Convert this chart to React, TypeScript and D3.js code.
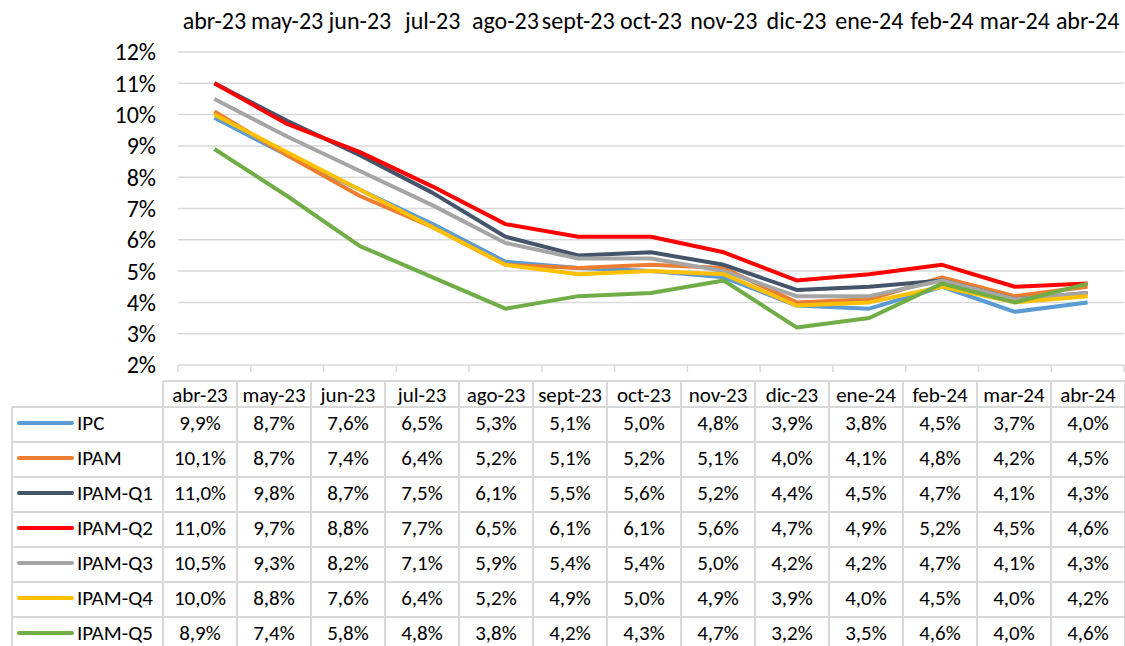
import * as d3 from 'd3';
import React, { useEffect, useRef } from 'react';

const months = ['abr-23', 'may-23', 'jun-23', 'jul-23', 'ago-23', 'sept-23', 'oct-23', 'nov-23', 'dic-23', 'ene-24', 'feb-24', 'mar-24', 'abr-24'];

const seriesNames = ['IPC', 'IPAM', 'IPAM-Q1', 'IPAM-Q2', 'IPAM-Q3', 'IPAM-Q4', 'IPAM-Q5'];
const seriesColors = ['#5B9BD5', '#ED7D31', '#44546A', '#FF0000', '#A5A5A5', '#FFC000', '#70AD47'];

const ipc = [9.9, 8.7, 7.6, 6.5, 5.3, 5.1, 5.0, 4.8, 3.9, 3.8, 4.5, 3.7, 4.0];
const ipam = [10.1, 8.7, 7.4, 6.4, 5.2, 5.1, 5.2, 5.1, 4.0, 4.1, 4.8, 4.2, 4.5];
const ipamQ1 = [11.0, 9.8, 8.7, 7.5, 6.1, 5.5, 5.6, 5.2, 4.4, 4.5, 4.7, 4.1, 4.3];
const ipamQ2 = [11.0, 9.7, 8.8, 7.7, 6.5, 6.1, 6.1, 5.6, 4.7, 4.9, 5.2, 4.5, 4.6];
const ipamQ3 = [10.5, 9.3, 8.2, 7.1, 5.9, 5.4, 5.4, 5.0, 4.2, 4.2, 4.7, 4.1, 4.3];
const ipamQ4 = [10.0, 8.8, 7.6, 6.4, 5.2, 4.9, 5.0, 4.9, 3.9, 4.0, 4.5, 4.0, 4.2];
const ipamQ5 = [8.9, 7.4, 5.8, 4.8, 3.8, 4.2, 4.3, 4.7, 3.2, 3.5, 4.6, 4.0, 4.6];

const seriesValues = [ipc, ipam, ipamQ1, ipamQ2, ipamQ3, ipamQ4, ipamQ5];
const yTicks = [2, 3, 4, 5, 6, 7, 8, 9, 10, 11, 12];

export default function App() {
  const svgRef = useRef<SVGSVGElement>(null);

  useEffect(() => {
    if (!svgRef.current) return;
    const svg = d3.select(svgRef.current);
    svg.selectAll('*').remove();

    const font = "Carlito, Calibri, 'Liberation Sans', sans-serif";
    const grid = '#d9d9d9';
    const axisSize = '24px';
    const tableSize = '21px';

    // plot area
    const x = d3.scaleBand().domain(months).range([178, 1124]);
    const y = d3.scaleLinear().domain([2, 12]).range([365, 52]);

    // table geometry
    const tx = d3.scaleBand().domain(months).range([163, 1125]);
    const headerTop = 381;
    const headerBottom = 407;
    const rowH = 35;
    const ry = d3.scaleBand().domain(seriesNames).range([headerBottom, headerBottom + rowH * seriesNames.length]);
    const legendLeft = 12;

    // gridlines
    svg.append('g')
      .selectAll('line')
      .data(yTicks)
      .join('line')
      .attr('x1', 178).attr('x2', 1124)
      .attr('y1', d => y(d)).attr('y2', d => y(d))
      .attr('stroke', grid).attr('stroke-width', 1.5);

    // tick marks at bottom
    svg.append('g')
      .selectAll('line')
      .data([...months.map(m => x(m)!), 1124])
      .join('line')
      .attr('x1', d => d).attr('x2', d => d)
      .attr('y1', y(2)).attr('y2', y(2) + 7)
      .attr('stroke', grid).attr('stroke-width', 1.5);

    // y labels
    svg.append('g')
      .selectAll('text')
      .data(yTicks)
      .join('text')
      .attr('x', 156).attr('y', d => y(d))
      .attr('dy', '0.35em')
      .attr('text-anchor', 'end')
      .style('font-family', font).style('font-size', axisSize)
      .attr('fill', '#000')
      .text(d => `${d}%`);

    // top labels
    svg.append('g')
      .selectAll('text')
      .data(months)
      .join('text')
      .attr('x', d => x(d)! + x.bandwidth() / 2).attr('y', 21)
      .attr('dy', '0.35em')
      .attr('text-anchor', 'middle')
      .style('font-family', font).style('font-size', axisSize)
      .text(d => d);

    // lines
    const line = d3.line<number>()
      .x((_, i) => x(months[i])! + x.bandwidth() / 2)
      .y(d => y(d));

    svg.append('g')
      .selectAll('path')
      .data(seriesValues)
      .join('path')
      .attr('d', d => line(d))
      .attr('fill', 'none')
      .attr('stroke', (_, i) => seriesColors[i])
      .attr('stroke-width', 4)
      .attr('stroke-linejoin', 'round');

    // table borders
    const tb = svg.append('g').attr('stroke', grid).attr('stroke-width', 2);
    const tableBottom = headerBottom + rowH * seriesNames.length;
    tb.append('line').attr('x1', 163).attr('x2', 1125).attr('y1', headerTop).attr('y2', headerTop);
    [headerBottom, ...seriesNames.map(s => ry(s)! + rowH)].forEach(v => {
      tb.append('line').attr('x1', legendLeft).attr('x2', 1125).attr('y1', v).attr('y2', v);
    });
    tb.append('line').attr('x1', legendLeft).attr('x2', legendLeft).attr('y1', headerBottom).attr('y2', tableBottom);
    [...months.map(m => tx(m)!), 1125].forEach(v => {
      tb.append('line').attr('x1', v).attr('x2', v).attr('y1', headerTop).attr('y2', tableBottom);
    });

    // header text
    svg.append('g')
      .selectAll('text')
      .data(months)
      .join('text')
      .attr('x', d => tx(d)! + tx.bandwidth() / 2).attr('y', (headerTop + headerBottom) / 2 + 1)
      .attr('dy', '0.35em')
      .attr('text-anchor', 'middle')
      .style('font-family', font).style('font-size', tableSize)
      .text(d => d);

    // rows
    const rows = svg.append('g')
      .selectAll('g')
      .data(seriesNames)
      .join('g')
      .attr('transform', d => `translate(0,${ry(d)! + rowH / 2 - 1.5})`);

    rows.append('line')
      .attr('x1', 19).attr('x2', 72)
      .attr('y1', 0).attr('y2', 0)
      .attr('stroke', (_, i) => seriesColors[i])
      .attr('stroke-width', 4)
      .attr('stroke-linecap', 'round');

    rows.append('text')
      .attr('x', 77).attr('y', 0).attr('dy', '0.35em')
      .style('font-family', font).style('font-size', tableSize)
      .text(d => d);

    rows.each(function (_, i) {
      d3.select(this)
        .selectAll('text.v')
        .data(seriesValues[i])
        .join('text')
        .attr('class', 'v')
        .attr('x', (_, j) => tx(months[j])! + tx.bandwidth() / 2)
        .attr('y', 0).attr('dy', '0.35em')
        .attr('text-anchor', 'middle')
        .style('font-family', font).style('font-size', tableSize)
        .text(v => d3.format('.1f')(v).replace('.', ',') + '%');
    });
  }, []);

  return (
    <svg ref={svgRef} width={1125} height={646}
      style={{ position: 'absolute', left: 0, top: 0, background: '#fff' }} />
  );
}
